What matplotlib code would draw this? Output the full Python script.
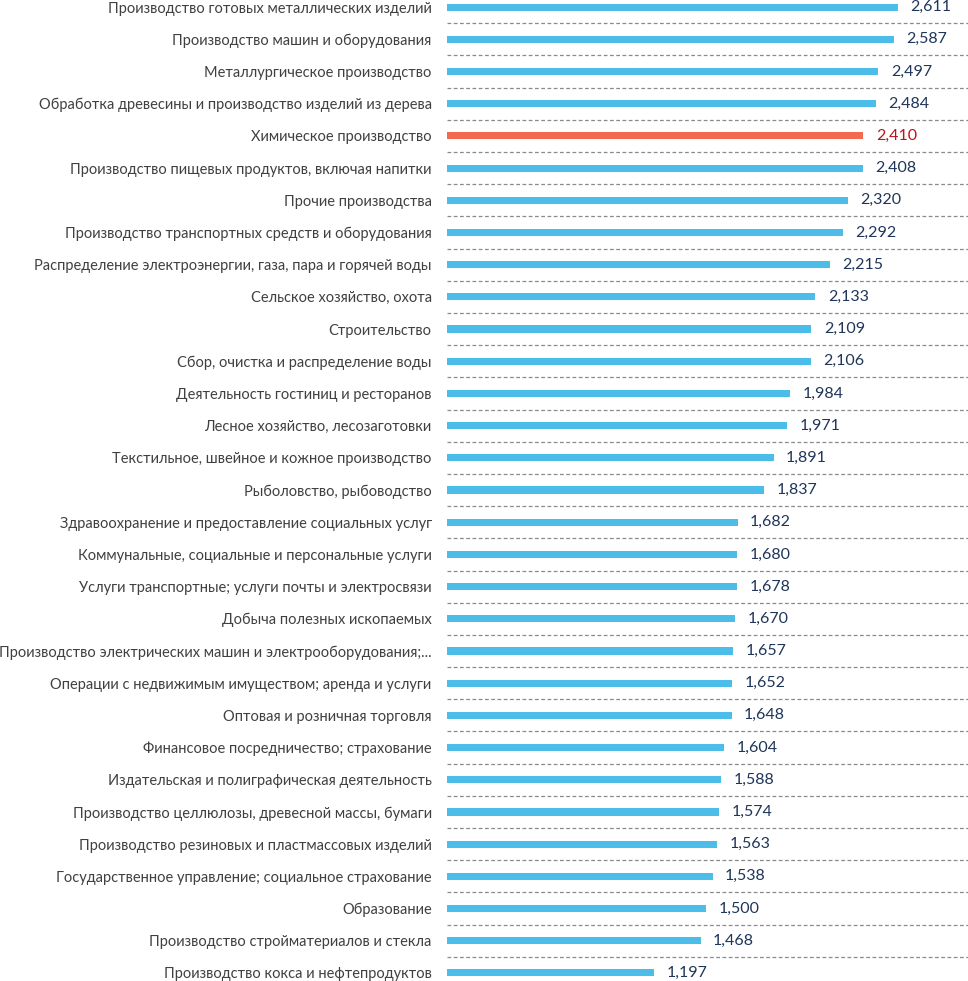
import matplotlib.pyplot as plt

# categories, top to bottom
labels = [
    "Производство готовых металлических изделий",
    "Производство машин и оборудования",
    "Металлургическое производство",
    "Обработка древесины и производство изделий из дерева",
    "Химическое производство",
    "Производство пищевых продуктов, включая напитки",
    "Прочие производства",
    "Производство транспортных средств и оборудования",
    "Распределение электроэнергии, газа, пара и горячей воды",
    "Сельское хозяйство, охота",
    "Строительство",
    "Сбор, очистка и распределение воды",
    "Деятельность гостиниц и ресторанов",
    "Лесное хозяйство, лесозаготовки",
    "Текстильное, швейное и кожное производство",
    "Рыболовство, рыбоводство",
    "Здравоохранение и предоставление социальных услуг",
    "Коммунальные, социальные и персональные услуги",
    "Услуги транспортные; услуги почты и электросвязи",
    "Добыча полезных ископаемых",
    "Производство электрических машин и электрооборудования;...",
    "Операции с недвижимым имуществом; аренда и услуги",
    "Оптовая и розничная торговля",
    "Финансовое посредничество; страхование",
    "Издательская и полиграфическая деятельность",
    "Производство целлюлозы, древесной массы, бумаги",
    "Производство резиновых и пластмассовых изделий",
    "Государственное управление; социальное страхование",
    "Образование",
    "Производство стройматериалов и стекла",
    "Производство кокса и нефтепродуктов",
]
values = [2611, 2587, 2497, 2484, 2410, 2408, 2320, 2292, 2215, 2133, 2109,
          2106, 1984, 1971, 1891, 1837, 1682, 1680, 1678, 1670, 1657, 1652,
          1648, 1604, 1588, 1574, 1563, 1538, 1500, 1468, 1197]
highlight = "Химическое производство"

blue = "#4BBDE8"
red = "#F26A4F"
navy = "#1F3559"

plt.rcParams['font.family'] = ['Lato', 'DejaVu Sans']

fig = plt.figure(figsize=(9.68, 9.81), dpi=100)
ax = fig.add_axes([447 / 968, 0, 521 / 968, 1])

ypos = list(range(len(values)))
colors = [red if l == highlight else blue for l in labels]
ax.barh(ypos, values, height=0.22, color=colors)

for y, v, l in zip(ypos, values, labels):
    c = "#C0101A" if l == highlight else navy
    ax.annotate(f"{v:,}", (v, y), xytext=(9, 0), textcoords="offset points",
                va="center", ha="left", fontsize=11.5, color=c)

for y in ypos[:-1]:
    ax.axhline(y + 0.5, color="#8a8a8a", lw=0.9, ls=(0, (3, 2)))

ax.set_xlim(0, 3016)
ax.set_ylim(30.25, -0.22)
ax.set_yticks(ypos)
ax.set_yticklabels(labels, fontsize=10.5, color="#404040")
ax.tick_params(axis="y", length=0, pad=11)
ax.set_xticks([])
for s in ax.spines.values():
    s.set_visible(False)

fig.savefig("out.png", dpi=100)
